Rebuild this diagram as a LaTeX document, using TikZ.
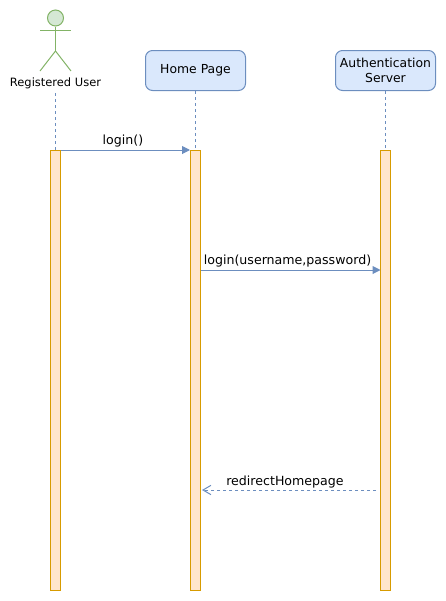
\documentclass[tikz,border=0pt]{standalone}
\usepackage{fontspec}
\setmainfont{DejaVu Sans}
\usetikzlibrary{arrows.meta}
\definecolor{boxfill}{HTML}{DAE8FC}
\definecolor{boxline}{HTML}{6C8EBF}
\definecolor{actorfill}{HTML}{D5E8D4}
\definecolor{actorline}{HTML}{82B366}
\definecolor{barfill}{HTML}{FFE6CC}
\definecolor{barline}{HTML}{D79B00}
\tikzset{
  pagebox/.style={draw=boxline,fill=boxfill,rounded corners=5.25pt,line width=0.75pt,
    minimum width=75pt,minimum height=30pt,inner sep=0pt,align=center,
    font=\fontsize{9.3}{11.2}\selectfont},
  actorlimb/.style={draw=actorline,line width=0.75pt},
  bar/.style={draw=barline,fill=barfill,line width=0.75pt,minimum width=7.5pt,
    minimum height=330pt,inner sep=0pt},
  lifeline/.style={draw=boxline,line width=0.75pt,dash pattern=on 2.25pt off 2.25pt},
  call/.style={draw=boxline,line width=0.75pt,-{Triangle[length=6pt,width=6pt,fill=boxline]}},
  reply/.style={draw=boxline,line width=0.75pt,dash pattern=on 2.25pt off 2.25pt,
    -{Straight Barb[length=6pt,width=7pt]}},
  msg/.style={font=\fontsize{9.45}{11}\selectfont,inner sep=0pt},
}
\begin{document}
\begin{tikzpicture}[x=0.75pt,y=-0.75pt]
  \useasboundingbox (0,0) rectangle (446,601);
  % Actor at the left
  \node[circle,draw=actorline,fill=actorfill,line width=0.75pt,minimum size=12pt,inner sep=0pt] (head) at (55.5,18) {};
  \coordinate (armL) at (40,30);
  \coordinate (armR) at (71,30);
  \coordinate (hip) at (55.5,51);
  \coordinate (footL) at (40,71);
  \coordinate (footR) at (71,71);
  \draw[actorlimb] (head) -- (hip);
  \draw[actorlimb] (armL) -- (armR);
  \draw[actorlimb] (footL) -- (hip) -- (footR);
  \node[msg] (userLabel) at (55.5,83) {\fontsize{8.6}{11}\selectfont Registered User};
  % The two boxes on top
  \node[pagebox] (homeBox) at (195.5,70.5) {\raisebox{-1pt}{Home Page}};
  \node[pagebox] (authBox) at (385.5,70.5) {\raisebox{-0.8pt}{Authentication}\\\raisebox{-0.8pt}{Server}};
  % Activation bars
  \coordinate (userTop) at (55.5,150);
  \coordinate (homeTop) at (195.5,150);
  \coordinate (authTop) at (385.5,150);
  \draw[lifeline] (55.5,93) -- (userTop);
  \draw[lifeline] (homeBox) -- (homeTop);
  \draw[lifeline] (authBox) -- (authTop);
  \node[bar] (userBar) at (55.5,370.5) {};
  \node[bar] (homeBar) at (195.5,370.5) {};
  \node[bar] (authBar) at (385.5,370.5) {};
  % Messages
  \draw[call] (userBar.north east) -- (homeBar.north west);
  \node[msg] (loginLabel) at (123,141.5) {login()};
  \coordinate (homeOut) at (200.5,270);
  \coordinate (authIn) at (380.5,270);
  \draw[call] (homeOut) -- (authIn);
  \node[msg] (credLabel) at (287.5,261.5) {login(username,password)};
  \coordinate (authOut) at (376,490);
  \coordinate (homeIn) at (202,490);
  \draw[reply] (authOut) -- (homeIn);
  \node[msg] (redirectLabel) at (285,482) {redirectHomepage};
\end{tikzpicture}
\end{document}
